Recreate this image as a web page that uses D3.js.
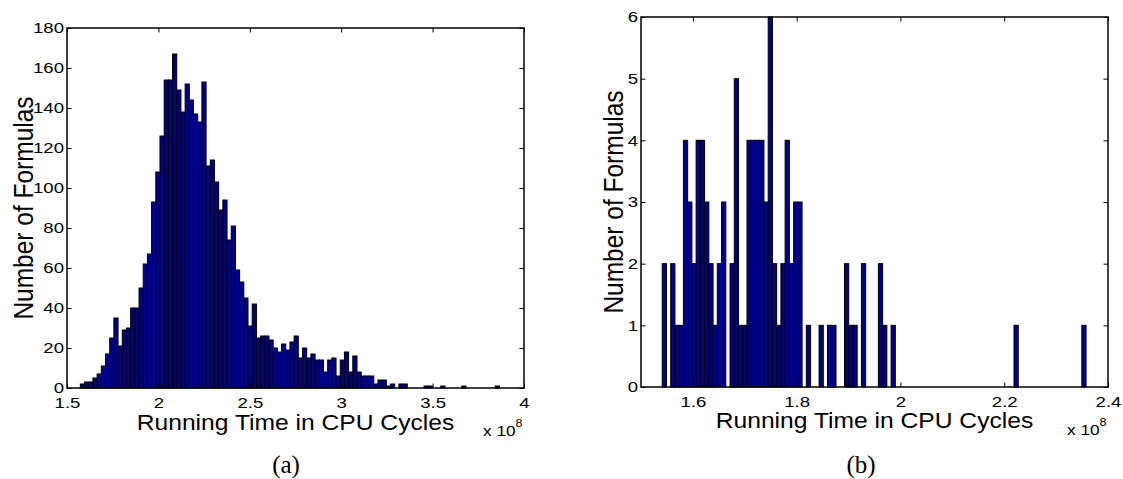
<!DOCTYPE html>
<html>
<head>
<meta charset="utf-8">
<script src="https://cdn.jsdelivr.net/npm/d3@7/dist/d3.min.js"></script>
<style>
  html, body { margin: 0; padding: 0; background: #fff; }
  svg { display: block; font-family: "Liberation Sans", Arial, Helvetica, sans-serif; }
</style>
</head>
<body>
<svg id="fig" width="1123" height="479"></svg>
<script>
// Histogram (a): all formulas, 100 equal bins between the fastest and slowest run (x 10^8 cycles)
const allRange = [1.573, 3.866];
const allCounts = [
  2, 3, 3, 5, 7, 11, 17, 25, 35, 21,
  29, 30, 40, 40, 50, 62, 67, 93, 108, 126,
  154, 154, 167, 149, 138, 152, 144, 137, 133, 153,
  111, 114, 103, 89, 94, 74, 81, 59, 53, 45,
  31, 42, 25, 26, 26, 24, 20, 18, 22, 19,
  23, 26, 15, 20, 15, 17, 14, 14, 8, 14,
  15, 6, 14, 18, 8, 16, 8, 6, 6, 6,
  2, 4, 4, 1, 2, 0, 2, 2, 0, 0,
  0, 0, 1, 1, 0, 0, 1, 0, 0, 0,
  0, 1, 0, 0, 0, 0, 0, 0, 0, 1
];
const allXTicks = [1.5, 2, 2.5, 3, 3.5, 4];
const allYTicks = [0, 20, 40, 60, 80, 100, 120, 140, 160, 180];

// Histogram (b): subset of formulas, 100 equal bins
const subRange = [1.5409, 2.3577];
const subCounts = [
  2, 0, 2, 1, 1, 4, 3, 2, 4, 4,
  3, 2, 1, 2, 3, 0, 2, 5, 1, 1,
  4, 4, 4, 4, 3, 6, 2, 1, 2, 4,
  2, 3, 3, 0, 1, 0, 0, 1, 0, 1,
  1, 0, 0, 2, 1, 1, 0, 2, 0, 0,
  0, 2, 1, 0, 1, 0, 0, 0, 0, 0,
  0, 0, 0, 0, 0, 0, 0, 0, 0, 0,
  0, 0, 0, 0, 0, 0, 0, 0, 0, 0,
  0, 0, 0, 1, 0, 0, 0, 0, 0, 0,
  0, 0, 0, 0, 0, 0, 0, 0, 0, 1
];
const subXTicks = [1.6, 1.8, 2, 2.2, 2.4];
const subYTicks = [0, 1, 2, 3, 4, 5, 6];

const xLabel = "Running Time in CPU Cycles";
const yLabel = "Number of Formulas";

const SANS = "Liberation Sans, Arial, Helvetica, sans-serif";
const SERIF = "Liberation Serif, Times New Roman, serif";

const svg = d3.select("#fig");
svg.append("rect").attr("width", 1123).attr("height", 479).attr("fill", "#fff");

const SX = 1.2;        // horizontal glyph stretch of the figure text
const TICK_FONT = 15.5;
const TICK_LEN = 4.5;

function stretch(sel, sx, extra) {
  sel.each(function () {
    const t = d3.select(this);
    const x = +t.attr("x") || 0, y = +t.attr("y") || 0;
    t.attr("x", 0).attr("y", 0)
     .attr("transform", `translate(${x},${y}) scale(${sx},1)` + (extra || ""));
  });
}

function panel(cfg) {
  const g = svg.append("g").attr("font-family", SANS);
  const x = d3.scaleLinear().domain(cfg.xDomain).range([cfg.left, cfg.right]);
  const y = d3.scaleLinear().domain(cfg.yDomain).range([cfg.bottom, cfg.top]);
  const n = cfg.counts.length;
  const w = (cfg.range[1] - cfg.range[0]) / n;

  const bins = cfg.counts.map((c, i) => ({
    x0: cfg.range[0] + i * w, x1: cfg.range[0] + (i + 1) * w, c
  })).filter(d => d.c > 0);

  g.append("g").selectAll("rect").data(bins).join("rect")
    .attr("x", d => x(d.x0))
    .attr("y", d => y(d.c))
    .attr("width", d => x(d.x1) - x(d.x0))
    .attr("height", d => y(0) - y(d.c))
    .attr("fill", "#00008f")
    .attr("stroke", "#000")
    .attr("stroke-width", 1);

  const fmt = v => String(v);

  // bottom axis with labels, ticks pointing inward
  const gb = g.append("g").attr("transform", `translate(0,${cfg.bottom})`)
    .call(d3.axisBottom(x).tickValues(cfg.xTicks).tickFormat(fmt)
      .tickSizeInner(-TICK_LEN).tickSizeOuter(0).tickPadding(cfg.xPad));
  // left axis with labels
  const gl = g.append("g").attr("transform", `translate(${cfg.left},0)`)
    .call(d3.axisLeft(y).tickValues(cfg.yTicks).tickFormat(fmt)
      .tickSizeInner(-TICK_LEN).tickSizeOuter(0).tickPadding(3));
  // mirrored ticks on top and right
  const gt = g.append("g").attr("transform", `translate(0,${cfg.top})`)
    .call(d3.axisTop(x).tickValues(cfg.xTicks).tickFormat("")
      .tickSizeInner(-TICK_LEN).tickSizeOuter(0));
  const gr = g.append("g").attr("transform", `translate(${cfg.right},0)`)
    .call(d3.axisRight(y).tickValues(cfg.yTicks).tickFormat("")
      .tickSizeInner(-TICK_LEN).tickSizeOuter(0));

  [gb, gl, gt, gr].forEach(a => {
    a.attr("font-family", SANS);
    a.select(".domain").remove();
    a.selectAll("line").attr("stroke", "#000").attr("stroke-width", 1);
    a.selectAll("text").attr("font-size", TICK_FONT).attr("fill", "#000");
  });
  stretch(gb.selectAll("text"), SX);
  stretch(gl.selectAll("text"), SX);

  // axes box
  g.append("rect")
    .attr("x", cfg.left).attr("y", cfg.top)
    .attr("width", cfg.right - cfg.left).attr("height", cfg.bottom - cfg.top)
    .attr("fill", "none").attr("stroke", "#000").attr("stroke-width", 1.5);

  // axis titles
  const xl = g.append("text")
    .attr("x", (cfg.left + cfg.right) / 2).attr("y", cfg.bottom + cfg.xLabelDy)
    .attr("text-anchor", "middle").attr("font-size", 22).text(xLabel);
  stretch(xl, 1.12);

  const yl = g.append("text")
    .attr("x", cfg.yLabelX).attr("y", (cfg.top + cfg.bottom) / 2)
    .attr("text-anchor", "middle").attr("font-size", 24.5).text(yLabel);
  stretch(yl, 1.15, " rotate(-90)");

  // exponent note
  const ex = g.append("text")
    .attr("x", cfg.right - 41).attr("y", cfg.bottom + 48)
    .attr("font-size", 15);
  ex.append("tspan").text("x 10");
  ex.append("tspan").attr("dy", -9).attr("font-size", 11).text("8");
  stretch(ex, 1.15);

  // sub-figure caption
  svg.append("text")
    .attr("x", cfg.captionX).attr("y", 473)
    .attr("text-anchor", "middle")
    .attr("font-family", SERIF)
    .attr("font-size", 25).text(cfg.caption);
}

panel({
  left: 67, right: 524, top: 28, bottom: 388,
  xDomain: [1.5, 4], yDomain: [0, 180],
  range: allRange, counts: allCounts,
  xTicks: allXTicks, yTicks: allYTicks,
  xPad: 8.5, xLabelDy: 42, yLabelX: 33,
  caption: "(a)", captionX: 286
});

panel({
  left: 641, right: 1108, top: 17, bottom: 387,
  xDomain: [1.5, 2.4], yDomain: [0, 6],
  range: subRange, counts: subCounts,
  xTicks: subXTicks, yTicks: subYTicks,
  xPad: 8.5, xLabelDy: 41, yLabelX: 623,
  caption: "(b)", captionX: 861
});
</script>
</body>
</html>
